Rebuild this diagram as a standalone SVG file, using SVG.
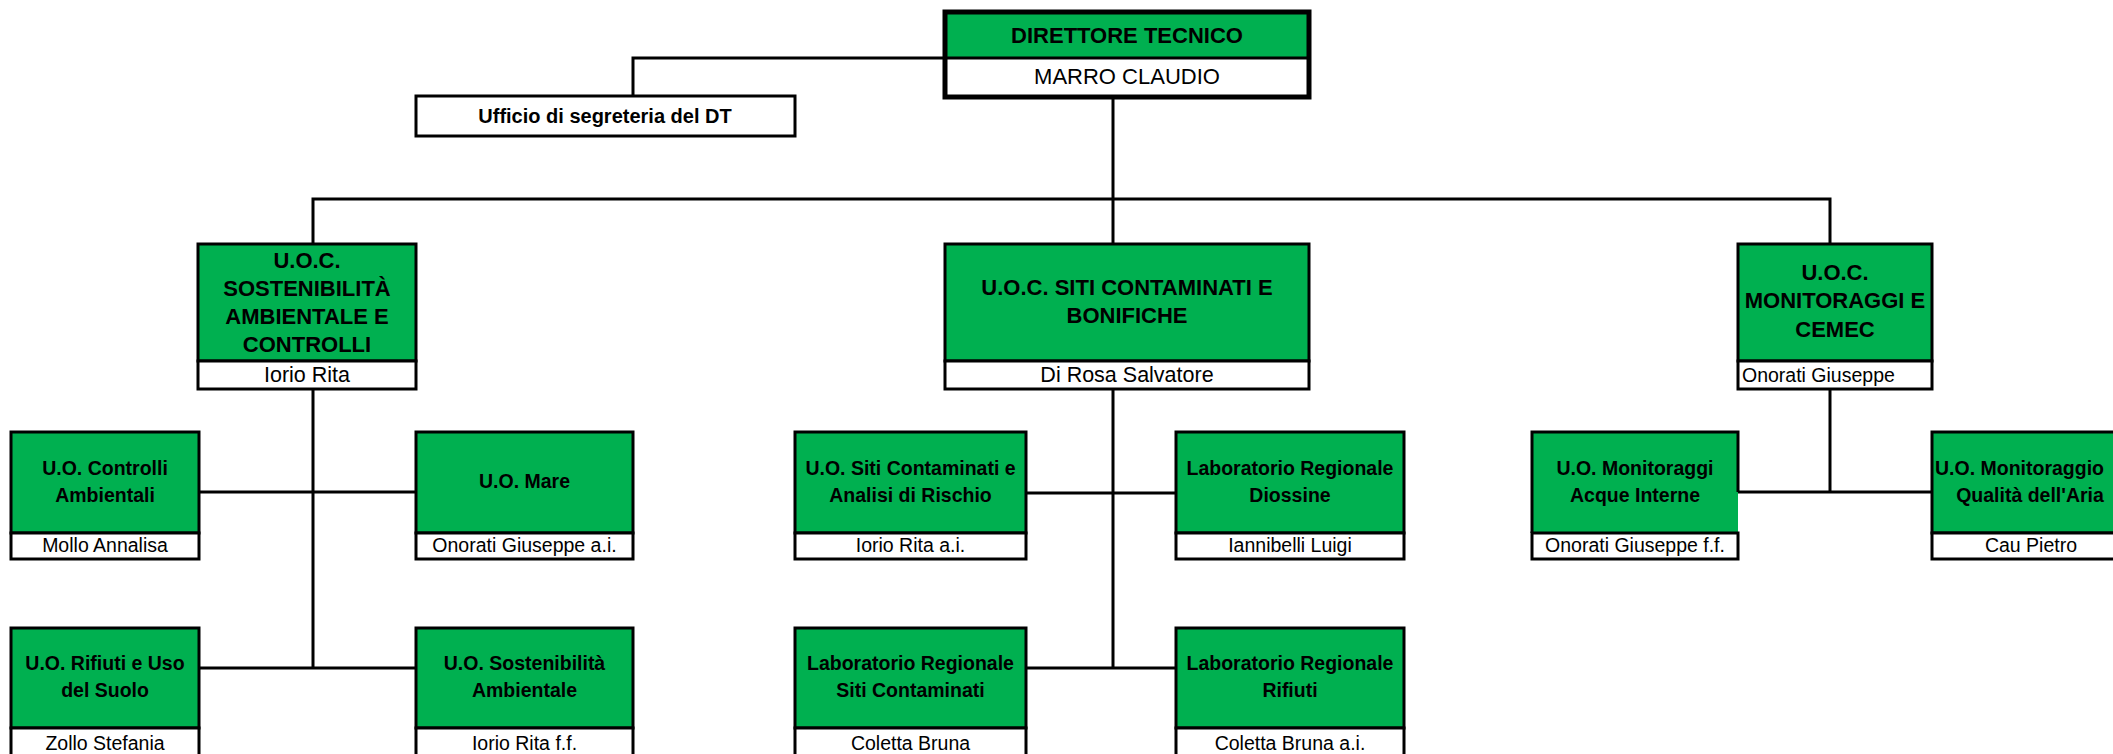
<svg xmlns="http://www.w3.org/2000/svg" width="2113" height="754" viewBox="0 0 2113 754">
<style>
.g{fill:#00B050;stroke:#000;stroke-width:3}
.w{fill:#fff;stroke:#000;stroke-width:3}
.c{fill:none;stroke:#000;stroke-width:3}
text{font-family:"Liberation Sans",Arial,sans-serif;fill:#000;text-anchor:middle}
.b{font-weight:bold;font-size:19.5px}
.n{font-size:19.5px}
.bh{font-weight:bold;font-size:22px}
.nh{font-size:21.5px}
</style>
<rect width="2113" height="754" fill="#fff"/>
<g id="connectors">
<polyline class="c" points="945,58 633,58 633,96"/>
<line class="c" x1="1113" y1="97" x2="1113" y2="244"/>
<polyline class="c" points="313,244 313,199 1830,199 1830,244"/>
<line class="c" x1="313" y1="389" x2="313" y2="668"/>
<line class="c" x1="199" y1="492" x2="416" y2="492"/>
<line class="c" x1="199" y1="668" x2="416" y2="668"/>
<line class="c" x1="1113" y1="389" x2="1113" y2="668"/>
<line class="c" x1="1026" y1="493" x2="1176" y2="493"/>
<line class="c" x1="1026" y1="668" x2="1176" y2="668"/>
<line class="c" x1="1830" y1="389" x2="1830" y2="492"/>
<line class="c" x1="1738" y1="492" x2="1932" y2="492"/>
</g>
<g id="direttore">
<rect x="945" y="12" width="364" height="46" fill="#00B050"/>
<rect x="945" y="58" width="364" height="39" fill="#fff"/>
<line x1="945" y1="58" x2="1309" y2="58" stroke="#000" stroke-width="3"/>
<rect x="945" y="12" width="364" height="85" fill="none" stroke="#000" stroke-width="5"/>
<text class="bh" x="1127" y="43">DIRETTORE TECNICO</text>
<text class="nh" x="1127" y="84" style="font-size:22px">MARRO CLAUDIO</text>
</g>
<g id="segreteria">
<rect class="w" x="416" y="96" width="379" height="40"/>
<text x="605" y="123" style="font-weight:bold;font-size:20px">Ufficio di segreteria del DT</text>
</g>
<g id="uoc-sostenibilita">
<rect class="g" x="198" y="244" width="218" height="117"/>
<rect class="w" x="198" y="361" width="218" height="28"/>
<text class="bh" x="307" y="268">U.O.C.</text>
<text class="bh" x="307" y="296">SOSTENIBILITÀ</text>
<text class="bh" x="307" y="324">AMBIENTALE E</text>
<text class="bh" x="307" y="352">CONTROLLI</text>
<text class="nh" x="307" y="382">Iorio Rita</text>
</g>
<g id="uoc-siti">
<rect class="g" x="945" y="244" width="364" height="117"/>
<rect class="w" x="945" y="361" width="364" height="28"/>
<text class="bh" x="1127" y="295">U.O.C. SITI CONTAMINATI E</text>
<text class="bh" x="1127" y="323">BONIFICHE</text>
<text class="nh" x="1127" y="382">Di Rosa Salvatore</text>
</g>
<g id="uoc-monitoraggi">
<rect class="g" x="1738" y="244" width="194" height="117"/>
<rect class="w" x="1738" y="361" width="194" height="28"/>
<text class="bh" x="1835" y="280">U.O.C.</text>
<text class="bh" x="1835" y="308">MONITORAGGI E</text>
<text class="bh" x="1835" y="337">CEMEC</text>
<text class="n" x="1742" y="382" style="text-anchor:start">Onorati Giuseppe</text>
</g>
<g id="uo-controlli">
<rect class="g" x="11" y="432" width="188" height="101"/>
<rect class="w" x="11" y="533" width="188" height="26"/>
<text class="b" x="105" y="475">U.O. Controlli</text>
<text class="b" x="105" y="502">Ambientali</text>
<text class="n" x="105" y="552">Mollo Annalisa</text>
</g>
<g id="uo-mare">
<rect class="g" x="416" y="432" width="217" height="101"/>
<rect class="w" x="416" y="533" width="217" height="26"/>
<text class="b" x="524.5" y="488">U.O. Mare</text>
<text class="n" x="524.5" y="552">Onorati Giuseppe a.i.</text>
</g>
<g id="uo-siti">
<rect class="g" x="795" y="432" width="231" height="101"/>
<rect class="w" x="795" y="533" width="231" height="26"/>
<text class="b" x="910.5" y="475">U.O. Siti Contaminati e</text>
<text class="b" x="910.5" y="502">Analisi di Rischio</text>
<text class="n" x="910.5" y="552">Iorio Rita a.i.</text>
</g>
<g id="lab-diossine">
<rect class="g" x="1176" y="432" width="228" height="101"/>
<rect class="w" x="1176" y="533" width="228" height="26"/>
<text class="b" x="1290" y="475">Laboratorio Regionale</text>
<text class="b" x="1290" y="502">Diossine</text>
<text class="n" x="1290" y="552">Iannibelli Luigi</text>
</g>
<g id="uo-acque">
<rect x="1532" y="432" width="206" height="101" fill="#00B050"/>
<path class="c" d="M1738,492 V432 H1532 V533"/>
<rect class="w" x="1532" y="533" width="206" height="26"/>
<text class="b" x="1635" y="475">U.O. Monitoraggi</text>
<text class="b" x="1635" y="502">Acque Interne</text>
<text class="n" x="1635" y="552">Onorati Giuseppe f.f.</text>
</g>
<g id="uo-aria">
<rect class="g" x="1932" y="432" width="200" height="101"/>
<rect class="w" x="1932" y="533" width="200" height="26"/>
<text class="b" x="1935" y="475" style="text-anchor:start">U.O. Monitoraggio</text>
<text class="b" x="2030" y="502">Qualità dell'Aria</text>
<text class="n" x="2031" y="552">Cau Pietro</text>
</g>
<g id="uo-rifiuti">
<rect class="g" x="11" y="628" width="188" height="100"/>
<rect class="w" x="11" y="728" width="188" height="30"/>
<text class="b" x="105" y="670">U.O. Rifiuti e Uso</text>
<text class="b" x="105" y="697">del Suolo</text>
<text class="n" x="105" y="750">Zollo Stefania</text>
</g>
<g id="uo-sostenibilita">
<rect class="g" x="416" y="628" width="217" height="100"/>
<rect class="w" x="416" y="728" width="217" height="30"/>
<text class="b" x="524.5" y="670">U.O. Sostenibilità</text>
<text class="b" x="524.5" y="697">Ambientale</text>
<text class="n" x="524.5" y="750">Iorio Rita f.f.</text>
</g>
<g id="lab-siti">
<rect class="g" x="795" y="628" width="231" height="100"/>
<rect class="w" x="795" y="728" width="231" height="30"/>
<text class="b" x="910.5" y="670">Laboratorio Regionale</text>
<text class="b" x="910.5" y="697">Siti Contaminati</text>
<text class="n" x="910.5" y="750">Coletta Bruna</text>
</g>
<g id="lab-rifiuti">
<rect class="g" x="1176" y="628" width="228" height="100"/>
<rect class="w" x="1176" y="728" width="228" height="30"/>
<text class="b" x="1290" y="670">Laboratorio Regionale</text>
<text class="b" x="1290" y="697">Rifiuti</text>
<text class="n" x="1290" y="750">Coletta Bruna a.i.</text>
</g>
</svg>
